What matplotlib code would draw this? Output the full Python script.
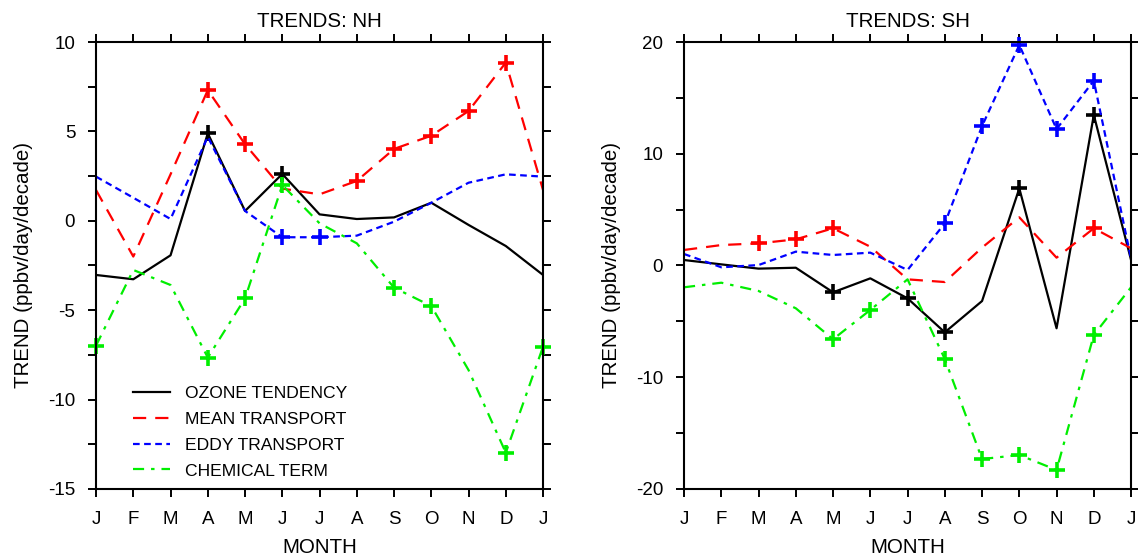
import matplotlib
matplotlib.use("Agg")
import matplotlib.pyplot as plt
from matplotlib.ticker import MultipleLocator, FuncFormatter

plt.rcParams['font.family'] = ['Liberation Sans', 'DejaVu Sans']
plt.rcParams['axes.unicode_minus'] = False
plt.rcParams['lines.scale_dashes'] = False

months = ['J', 'F', 'M', 'A', 'M', 'J', 'J', 'A', 'S', 'O', 'N', 'D', 'J']

# NH trends (ppbv/day/decade)
nh_ozone = [-3.03, -3.27, -1.93, 4.89, 0.55, 2.62, 0.36, 0.10, 0.19, 1.01, -0.23, -1.41, -3.03]
nh_mean = [1.72, -2.0, 2.6, 7.31, 4.28, 1.8, 1.48, 2.23, 4.02, 4.76, 6.14, 8.85, 1.72]
nh_eddy = [2.47, 1.29, 0.10, 4.7, 0.55, -0.92, -0.92, -0.83, -0.05, 1.01, 2.13, 2.6, 2.47]
nh_chem = [-6.98, -2.75, -3.59, -7.65, -4.34, 2.0, -0.14, -1.26, -3.74, -4.77, -8.35, -12.97, -7.04]
# months where the trend is significant (marked with +)
nh_ozone_sig = [3, 5]
nh_mean_sig = [3, 4, 7, 8, 9, 10, 11]
nh_eddy_sig = [5, 6]
nh_chem_sig = [0, 3, 4, 5, 8, 9, 11, 12]

# SH trends
sh_ozone = [0.49, 0.1, -0.28, -0.2, -2.4, -1.15, -2.94, -5.98, -3.18, 6.9, -5.62, 13.47, 0.49]
sh_mean = [1.39, 1.83, 1.98, 2.34, 3.33, 1.68, -1.24, -1.48, 1.6, 4.31, 0.7, 3.33, 1.54]
sh_eddy = [1.03, -0.16, 0.04, 1.24, 0.94, 1.15, -0.4, 3.77, 12.48, 19.73, 12.21, 16.54, 0.6]
sh_chem = [-1.95, -1.54, -2.28, -3.83, -6.6, -3.98, -1.24, -8.37, -17.32, -16.96, -18.3, -6.22, -1.95]
sh_ozone_sig = [4, 6, 7, 9, 11]
sh_mean_sig = [2, 3, 4, 11]
sh_eddy_sig = [7, 8, 9, 10, 11]
sh_chem_sig = [4, 5, 7, 8, 9, 10, 11]

names = ['OZONE TENDENCY', 'MEAN TRANSPORT', 'EDDY TRANSPORT', 'CHEMICAL TERM']
colors = ['black', 'red', 'blue', '#00ee00']
dashes = [None, (9.5, 6.5), (4.8, 3.2), (8, 5, 2.5, 5)]

x = list(range(len(months)))

fig = plt.figure(figsize=(11.38, 5.58), dpi=100)
ax1 = fig.add_axes([0.0844, 0.1237, 0.3928, 0.801])
ax2 = fig.add_axes([0.6011, 0.1237, 0.3928, 0.801])


def panel(ax, series, sigs, title, ylim, major, minor):
    for vals, sig, name, c, d in zip(series, sigs, names, colors, dashes):
        line, = ax.plot(x, vals, color=c, lw=1.6, label=name)
        if d is not None:
            line.set_dashes(d)
        ax.plot([x[i] for i in sig], [vals[i] for i in sig], linestyle='none',
                marker='+', ms=12, mew=2.6, color=c, clip_on=False)
    ax.set_xlim(0, 12)
    ax.set_ylim(*ylim)
    ax.set_xticks(x)
    ax.set_xticklabels(months)
    ax.yaxis.set_major_locator(MultipleLocator(major))
    ax.yaxis.set_minor_locator(MultipleLocator(minor))
    ax.yaxis.set_major_formatter(FuncFormatter(lambda v, p: '%d' % v))
    ax.tick_params(which='both', direction='out', length=5.5, width=1.4,
                   top=True, right=True, labelsize=13.5)
    ax.tick_params(axis='y', pad=9.5)
    ax.tick_params(axis='x', pad=10.5)
    for s in ax.spines.values():
        s.set_linewidth(1.5)
    ax.set_title(title, fontsize=14.8, pad=11)
    ax.set_xlabel('MONTH', fontsize=14.8, labelpad=7)
    ax.set_ylabel('TREND (ppbv/day/decade)', fontsize=14.8, labelpad=11)


panel(ax1, [nh_ozone, nh_mean, nh_eddy, nh_chem],
      [nh_ozone_sig, nh_mean_sig, nh_eddy_sig, nh_chem_sig],
      'TRENDS: NH', (-15, 10), 5, 2.5)
panel(ax2, [sh_ozone, sh_mean, sh_eddy, sh_chem],
      [sh_ozone_sig, sh_mean_sig, sh_eddy_sig, sh_chem_sig],
      'TRENDS: SH', (-20, 20), 10, 5)

ax1.legend(loc='lower left', bbox_to_anchor=(0.048, -0.012), frameon=False,
           fontsize=12.6, handlelength=2.1, handletextpad=0.86, labelspacing=0.6)

fig.savefig('out.png', dpi=100)
